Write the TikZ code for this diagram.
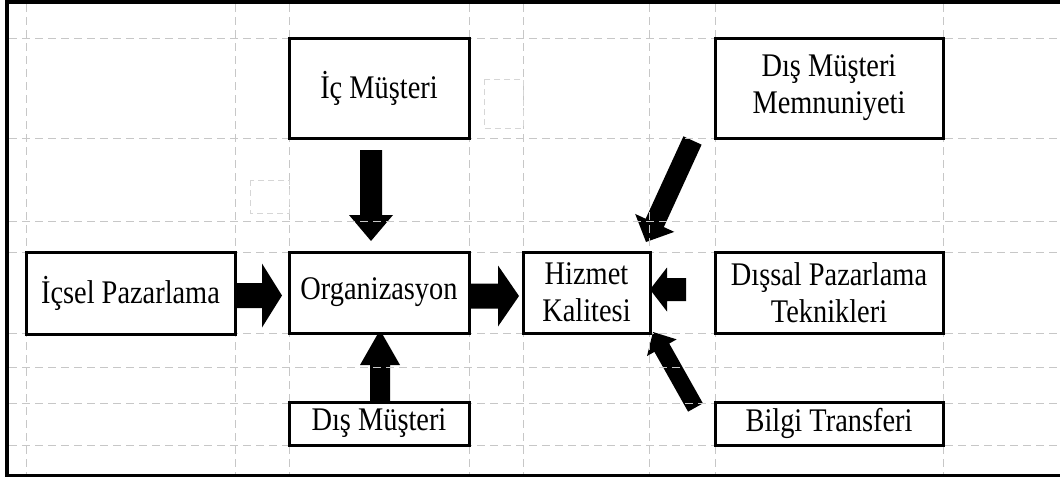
\documentclass[tikz,border=0pt]{standalone}
\usepackage{fontspec}
\setmainfont{Liberation Serif}
\newfontfamily\boxfont[FakeStretch=0.86]{Liberation Serif}
\usetikzlibrary{calc}
\pgfdeclarelayer{under}
\pgfsetlayers{under,main}

% solid block arrow from #1 to #2: half shaft #3, half head #4, head length #5
\newcommand\blockarr[5]{%
  \path ($(#2)!#5!(#1)$) coordinate (ba-h);
  \fill[arrowfill] ($(#1)!#3!90:(#2)$) -- ($(ba-h)!#3!90:(#2)$)
    -- ($(ba-h)!#4!90:(#2)$) -- (#2) -- ($(ba-h)!#4!-90:(#2)$)
    -- ($(ba-h)!#3!-90:(#2)$) -- ($(#1)!#3!-90:(#2)$) -- cycle;}

\begin{document}
\begin{tikzpicture}[x=1pt,y=-1pt,
  gridline/.style={draw=black!22, line width=1pt, dash pattern=on 8pt off 5pt},
  ghostbox/.style={draw=black!16, line width=0.8pt, dash pattern=on 6pt off 4pt},
  box/.style={draw=black, fill=white, line width=3pt, inner sep=0pt, outer sep=0pt,
    align=center, font=\boxfont\fontsize{33}{37}\selectfont},
  arrowfill/.style={fill=black}]
\useasboundingbox (0,0) rectangle (1060,477);

% boxes
\node[box, minimum width=180pt, minimum height=100pt] (icm) at (379,88) {İç Müşteri};
\node[box, minimum width=228pt, minimum height=100pt] (dmm) at (829,88) {Dış Müşteri\\Memnuniyeti};
\node[box, minimum width=209pt, minimum height=82pt] (ip) at (130.5,293) {İçsel Pazarlama};
\node[box, minimum width=180pt, minimum height=81pt] (org) at (379,292.5) {Organizasyon};
\node[box, minimum width=127pt, minimum height=81pt] (hk) at (586.5,292.5) {Hizmet\\Kalitesi};
\node[box, minimum width=228pt, minimum height=81pt] (dpt) at (829,292.5) {Dışsal Pazarlama\\Teknikleri};
\node[box, minimum width=180pt, minimum height=43pt] (dm) at (379,423.5) {Dış Müşteri};
\node[box, minimum width=228pt, minimum height=43pt] (bt) at (829,423.5) {Bilgi Transferi};

% arrow ends
\coordinate (a1s) at (371,150);   \coordinate (a1e) at (371,241);
\coordinate (a2s) at (235,295.5); \coordinate (a2e) at (282,295.5);
\coordinate (a3s) at (462,296);   \coordinate (a3e) at (519,296);
\coordinate (a4s) at (380,403);   \coordinate (a4e) at (380,330);
\coordinate (a5s) at (686,289.5); \coordinate (a5e) at (650,289.5);
\coordinate (a6s) at (692.5,140.5); \coordinate (a6e) at (646,242);
\coordinate (a7s) at (695.5,407.5); \coordinate (a7e) at (653,332);

\begin{pgfonlayer}{under}
  \fill[white] (0,0) rectangle (1060,477);
  \blockarr{a1s}{a1e}{11pt}{22pt}{26pt}
  \blockarr{a2s}{a2e}{12.5pt}{32pt}{20pt}
  \blockarr{a3s}{a3e}{12.5pt}{30.5pt}{21pt}
  \blockarr{a4s}{a4e}{10pt}{20pt}{35pt}
  \blockarr{a5s}{a5e}{11.5pt}{22pt}{17pt}
  \blockarr{a6s}{a6e}{10pt}{21.5pt}{21pt}
  \blockarr{a7s}{a7e}{8.5pt}{17pt}{18pt}
  % dashed guide grid
  \foreach \gx in {26,235,289,469,523,649,715,943}
    \draw[gridline] (\gx,4) -- (\gx,474);
  \foreach \gy in {38,138,221,252,333,367,403,445}
    \draw[gridline] (9,\gy) -- (1060,\gy);
  % empty placeholder frames
  \draw[ghostbox] (484,79) rectangle (523,128);
  \draw[ghostbox] (250,180) rectangle (289,213);
\end{pgfonlayer}

% outer frame
\draw[line width=4pt] (5,2) -- (1060,2);
\draw[line width=4pt] (7,0) -- (7,477);
\draw[line width=3pt] (5,475.5) -- (1060,475.5);
\end{tikzpicture}
\end{document}
